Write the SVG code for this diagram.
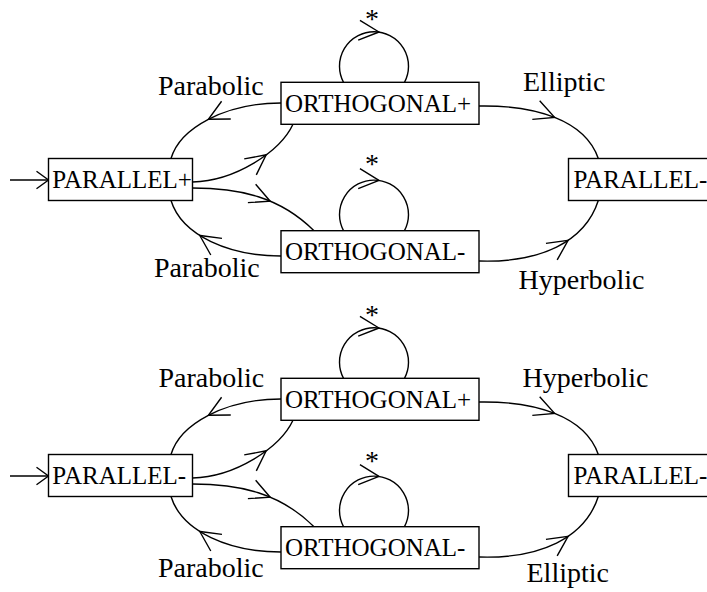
<svg xmlns="http://www.w3.org/2000/svg" xmlns:xlink="http://www.w3.org/1999/xlink" width="707" height="592" viewBox="0 0 707 592">
<style>
  .box { fill: #fff; stroke: #000; stroke-width: 1.4; }
  .edge { fill: none; stroke: #000; stroke-width: 1.4; }
  .ntext { font-family: "Liberation Serif", "Times New Roman", serif; font-size: 25px; fill: #000; }
  .ltext { font-family: "Liberation Serif", "Times New Roman", serif; font-size: 28px; fill: #000; }
  .star { font-family: "Liberation Serif", "Times New Roman", serif; font-size: 28px; fill: #000; text-anchor: middle; }
</style>
<defs>
  <path id="ah" d="M-20,-10 L0,0 L-20,10" fill="none" stroke="#000" stroke-width="1.4"/>
  <path id="ah2" d="M-12,-8.8 L0,0 L-12,8.8" fill="none" stroke="#000" stroke-width="1.4"/>
  <g id="half-edges">
    <path class="edge" d="M10,180 L48.5,180"/>
    <use xlink:href="#ah2" transform="translate(48.5,180)"/>
    <path class="edge" d="M281,103 C225,103 180,128 171,158.5"/>
    <use xlink:href="#ah" transform="translate(208.4,119.3) rotate(152.7)"/>
    <path class="edge" d="M192.5,182 C235,181 280,152 293,124.3"/>
    <use xlink:href="#ah" transform="translate(266.2,154.8) rotate(-37.2)"/>
    <path class="edge" d="M192.5,188 C240,188 280,197 314,230.7"/>
    <use xlink:href="#ah" transform="translate(270.2,201.2) rotate(22.8)"/>
    <path class="edge" d="M281,256 C230,256 182,236 171,200.5"/>
    <use xlink:href="#ah" transform="translate(199.8,235.5) rotate(214)"/>
    <path class="edge" d="M479,106 C535,105 585,120 598.3,158.5"/>
    <use xlink:href="#ah" transform="translate(554.6,117.4) rotate(21.6)"/>
    <path class="edge" d="M479,261 C540,263 585,242 598.3,200.5"/>
    <use xlink:href="#ah" transform="translate(568.1,240.4) rotate(-34.2)"/>
    <path class="edge" d="M343.5,82.3 A34.5,34.5 0 1 1 404.5,82.3"/>
    <use xlink:href="#ah" transform="translate(379,32) rotate(5)"/>
    <path class="edge" d="M343.5,230.7 A34.5,34.5 0 1 1 404.5,230.7"/>
    <use xlink:href="#ah" transform="translate(379,180.4) rotate(5)"/>
  </g>
</defs>

<g id="connectors">
  <use xlink:href="#half-edges"/>
  <use xlink:href="#half-edges" transform="translate(0,296)"/>
</g>

<g id="parallel-plus-1">
  <rect class="box" x="48.5" y="158.5" width="144" height="42"/>
  <text class="ntext" x="52.3" y="188">PARALLEL+</text>
</g>
<g id="orthogonal-plus-1">
  <rect class="box" x="281" y="82.3" width="198" height="42"/>
  <text class="ntext" x="285" y="111.5">ORTHOGONAL+</text>
</g>
<g id="orthogonal-minus-1">
  <rect class="box" x="281" y="230.7" width="198" height="42"/>
  <text class="ntext" x="285" y="260">ORTHOGONAL-</text>
</g>
<g id="parallel-minus-1">
  <rect class="box" x="568.5" y="158.5" width="144" height="42"/>
  <text class="ntext" x="573.5" y="188">PARALLEL-</text>
</g>

<g id="parallel-minus-2">
  <rect class="box" x="48.5" y="454.5" width="144" height="42"/>
  <text class="ntext" x="52.3" y="484">PARALLEL-</text>
</g>
<g id="orthogonal-plus-2">
  <rect class="box" x="281" y="378.3" width="198" height="42"/>
  <text class="ntext" x="285" y="407.5">ORTHOGONAL+</text>
</g>
<g id="orthogonal-minus-2">
  <rect class="box" x="281" y="526.7" width="198" height="42"/>
  <text class="ntext" x="285" y="556">ORTHOGONAL-</text>
</g>
<g id="parallel-minus-3">
  <rect class="box" x="568.5" y="454.5" width="144" height="42"/>
  <text class="ntext" x="573.5" y="484">PARALLEL-</text>
</g>

<g id="labels">
  <text class="ltext" x="158" y="94.5">Parabolic</text>
  <text class="ltext" x="154" y="276.5">Parabolic</text>
  <text class="ltext" x="523" y="90.5">Elliptic</text>
  <text class="ltext" x="518.5" y="289">Hyperbolic</text>
  <text class="star" x="372" y="27.5">*</text>
  <text class="star" x="372" y="173">*</text>
  <text class="ltext" x="158.5" y="386.5">Parabolic</text>
  <text class="ltext" x="158" y="576.7">Parabolic</text>
  <text class="ltext" x="522.5" y="386.5">Hyperbolic</text>
  <text class="ltext" x="526.5" y="581.7">Elliptic</text>
  <text class="star" x="372" y="323.5">*</text>
  <text class="star" x="372" y="470">*</text>
</g>
</svg>
